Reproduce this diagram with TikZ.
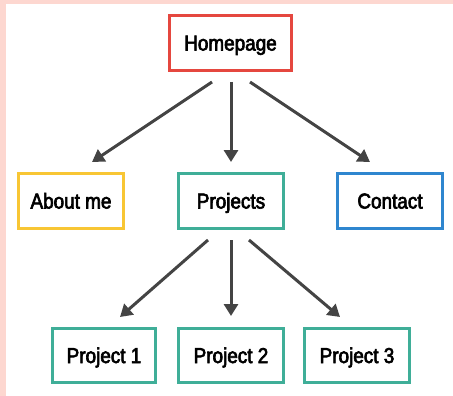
\documentclass[tikz,border=0pt]{standalone}
\usepackage{fontspec}
\setmainfont{Liberation Sans}[FakeStretch=0.88,FakeBold=3]
\usetikzlibrary{arrows.meta}
\definecolor{bgpink}{HTML}{FDD7D0}
\definecolor{cred}{HTML}{E5473F}
\definecolor{cyel}{HTML}{F8C634}
\definecolor{cteal}{HTML}{3FAE98}
\definecolor{cblue}{HTML}{2F86CF}
\definecolor{carrow}{HTML}{444444}
\tikzset{
  box/.style={draw, line width=3pt, fill=white, minimum height=55pt, minimum width=105pt,
    inner sep=0pt, text height=15pt, text depth=0pt,
    font=\fontsize{21.5}{24}\selectfont, text=black},
  link/.style={draw=carrow, line width=3pt, -{Triangle[length=12pt,width=14pt]}}
}
\begin{document}
\begin{tikzpicture}[x=1pt,y=-1pt]
\useasboundingbox (0,0) rectangle (453,396);
\fill[bgpink] (0,0) rectangle (453,396);
\fill[white] (6,4) rectangle (453,396);
\node[box, draw=cred, minimum width=122pt] (home) at (230.5,43) {Homepage};
\node[box, draw=cyel] (about) at (71,201) {About me};
\node[box, draw=cteal] (proj) at (231,201) {Projects};
\node[box, draw=cblue] (contact) at (390,201) {Contact};
\node[box, draw=cteal, minimum width=103pt, minimum height=54pt] (p1) at (104,355.5) {Project 1};
\node[box, draw=cteal, minimum height=54pt] (p2) at (231,355.5) {Project 2};
\node[box, draw=cteal, minimum height=54pt] (p3) at (357,355.5) {Project 3};
% connector ends
\coordinate (hl) at ([shift={(-18.5,10)}]home.south);
\coordinate (hm) at ([shift={(0.5,10)}]home.south);
\coordinate (hr) at ([shift={(19.5,10)}]home.south);
\coordinate (al) at ([shift={(21,-10)}]about.north);
\coordinate (pm) at ([shift={(0,-10)}]proj.north);
\coordinate (cr) at ([shift={(-20,-10)}]contact.north);
\coordinate (ql) at ([shift={(-23,10)}]proj.south);
\coordinate (qm) at ([shift={(0,10)}]proj.south);
\coordinate (qr) at ([shift={(18,10)}]proj.south);
\coordinate (t1) at ([shift={(16,-10)}]p1.north);
\coordinate (t2) at ([shift={(0,-11)}]p2.north);
\coordinate (t3) at ([shift={(-17,-10)}]p3.north);
\draw[link] (hl) -- (al);
\draw[link] (hm) -- (pm);
\draw[link] (hr) -- (cr);
\draw[link] (ql) -- (t1);
\draw[link] (qm) -- (t2);
\draw[link] (qr) -- (t3);
\end{tikzpicture}
\end{document}
